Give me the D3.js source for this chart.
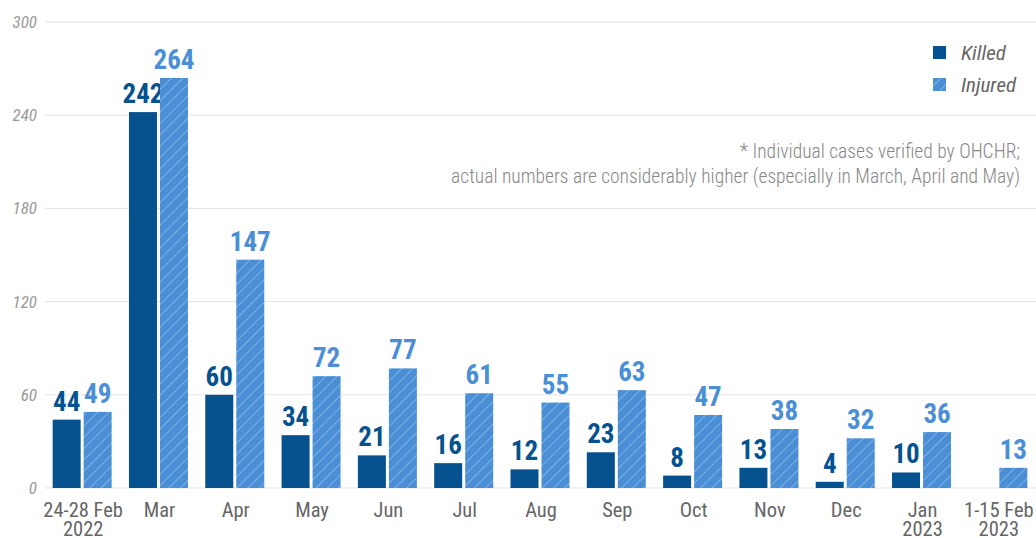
<!DOCTYPE html>
<html>
<head>
<meta charset="utf-8">
<script src="https://cdn.jsdelivr.net/npm/d3@7"></script>
<style>
body { margin: 0; background: #fff; }
text { font-family: "Roboto Condensed", "Liberation Sans Narrow", Roboto, sans-serif; }
</style>
</head>
<body>
<script>
var categories = ["24-28 Feb\n2022", "Mar", "Apr", "May", "Jun", "Jul", "Aug", "Sep", "Oct", "Nov", "Dec", "Jan\n2023", "1-15 Feb\n2023"];
var killed = [44, 242, 60, 34, 21, 16, 12, 23, 8, 13, 4, 10, null];
var injured = [49, 264, 147, 72, 77, 61, 55, 63, 47, 38, 32, 36, 13];
var yTicks = [0, 60, 120, 180, 240, 300];
var noteLines = ["* Individual cases verified by OHCHR;", "actual numbers are considerably higher (especially in March, April and May)"];

var width = 1036, height = 538;
var darkBlue = "#05528e", lightBlue = "#4a8fd5";

var svg = d3.select("body").append("svg")
  .attr("width", width)
  .attr("height", height);

var defs = svg.append("defs");
var pat = defs.append("pattern")
  .attr("id", "hatch")
  .attr("patternUnits", "userSpaceOnUse")
  .attr("width", 8)
  .attr("height", 8)
  .attr("patternTransform", "rotate(45)");
pat.append("rect").attr("width", 8).attr("height", 8).attr("fill", lightBlue);
pat.append("line")
  .attr("x1", 0).attr("y1", 0).attr("x2", 0).attr("y2", 8)
  .attr("stroke", "#8ab8e8").attr("stroke-width", 1.6);

var x = d3.scaleBand().domain(categories).range([44, 1036]);
var y = d3.scaleLinear().domain([0, 300]).range([488, 22]);

// gridlines
svg.selectAll(".grid").data(yTicks).enter().append("line")
  .attr("x1", 45).attr("x2", width)
  .attr("y1", function(d) { return y(d); })
  .attr("y2", function(d) { return y(d); })
  .attr("stroke", "#e3e3e3")
  .attr("stroke-width", 1);

svg.selectAll(".ytick").data(yTicks).enter().append("text")
  .attr("x", 37)
  .attr("y", function(d) { return y(d) + 6; })
  .attr("text-anchor", "end")
  .attr("font-family", "Roboto, sans-serif")
  .attr("font-size", 17)
  .attr("font-style", "italic")
  .attr("fill", "#999")
  .text(function(d) { return d; });

var bw = 28, gap = 3;

killed.forEach(function(d, i) {
  if (d == null) return;
  var cx = x(categories[i]) + x.bandwidth() / 2;
  svg.append("rect")
    .attr("x", cx - gap / 2 - bw)
    .attr("y", y(d))
    .attr("width", bw)
    .attr("height", y(0) - y(d))
    .attr("fill", darkBlue);
  svg.append("text")
    .attr("x", cx - gap / 2 - bw / 2)
    .attr("y", y(d) - 9)
    .attr("text-anchor", "middle")
    .attr("font-size", 27)
    .attr("font-weight", "bold")
    .attr("fill", darkBlue)
    .text(d);
});

injured.forEach(function(d, i) {
  var cx = x(categories[i]) + x.bandwidth() / 2;
  svg.append("rect")
    .attr("x", cx + gap / 2)
    .attr("y", y(d))
    .attr("width", bw)
    .attr("height", y(0) - y(d))
    .attr("fill", "url(#hatch)");
  svg.append("text")
    .attr("x", cx + gap / 2 + bw / 2)
    .attr("y", y(d) - 9)
    .attr("text-anchor", "middle")
    .attr("font-size", 27)
    .attr("font-weight", "bold")
    .attr("fill", lightBlue)
    .text(d);
});

// category labels
categories.forEach(function(c, i) {
  var cx = x(c) + x.bandwidth() / 2 + 1;
  c.split("\n").forEach(function(line, j) {
    svg.append("text")
      .attr("x", cx)
      .attr("y", 517 + j * 19)
      .attr("text-anchor", "middle")
      .attr("font-size", 20.5)
      .attr("fill", "#666")
      .text(line);
  });
});

// legend
var legend = [["Killed", darkBlue], ["Injured", "url(#hatch)"]];
legend.forEach(function(l, i) {
  svg.append("rect")
    .attr("x", 933).attr("y", 46 + i * 32)
    .attr("width", 13).attr("height", 13)
    .attr("fill", l[1]);
  svg.append("text")
    .attr("x", 961).attr("y", 60 + i * 32)
    .attr("font-family", "'Open Sans', sans-serif")
    .attr("font-size", 21)
    .attr("font-style", "italic")
    .attr("fill", "#666")
    .text(l[0]);
});

// note
noteLines.forEach(function(line, i) {
  svg.append("text")
    .attr("x", 1020).attr("y", 158 + i * 25)
    .attr("text-anchor", "end")
    .attr("font-size", 19.5)
    .attr("font-weight", 300)
    .attr("fill", "#888")
    .text(line);
});
</script>
</body>
</html>
